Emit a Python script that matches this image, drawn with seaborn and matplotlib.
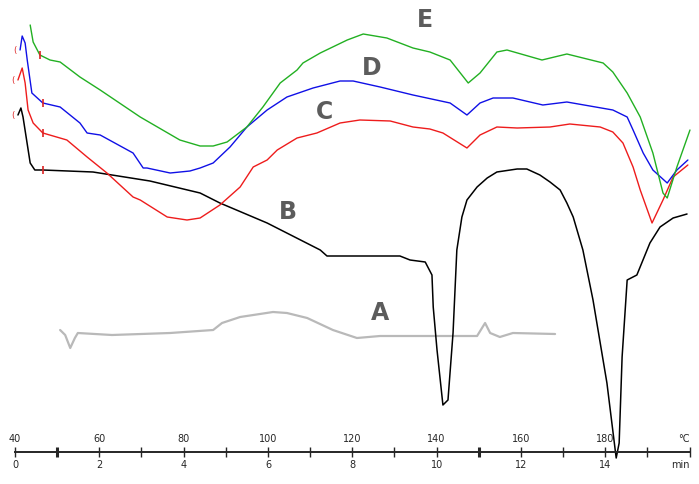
import matplotlib
matplotlib.use('Agg')
import matplotlib.pyplot as plt
import pandas as pd
import seaborn as sns

# --- data: temperature (°C) vs heat flow (arb. units) ---
temp_a = [50.7, 51.9, 53.1, 54.2, 54.9, 63.0, 76.8, 87.0, 89.1, 93.4, 101.2, 104.5,
          109.3, 115.4, 121.1, 126.6, 149.6, 151.5, 152.7, 155.0, 158.1, 168.1]
hf_a = [12.2, 11.7, 10.4, 11.4, 11.9, 11.7, 11.9, 12.2, 12.9, 13.5, 14.0, 13.9,
        13.4, 12.2, 11.4, 11.6, 11.6, 12.9, 11.9, 11.5, 11.9, 11.8]

temp_b = [40.7, 41.4, 41.9, 43.6, 44.7, 46.6, 58.5, 72.0, 83.9, 88.6, 99.8, 112.4,
          114.0, 119.5, 131.3, 133.7, 137.3, 138.9, 139.2, 140.1, 141.5, 142.7, 143.9,
          144.8, 146.0, 147.2, 149.6, 152.0, 154.3, 159.1, 161.4, 164.5, 166.9, 169.3,
          170.9, 172.4, 174.7, 177.1, 180.4, 182.6, 183.3, 184.0, 185.2, 187.5, 190.6,
          193.0, 196.1, 199.4]
hf_b = [33.7, 34.4, 33.5, 28.9, 28.2, 28.2, 28.0, 27.1, 25.9, 24.9, 22.9, 20.2,
        19.6, 19.6, 19.6, 19.2, 19.0, 17.7, 14.5, 10.2, 4.7, 5.2, 11.9,
        20.2, 23.5, 25.2, 26.5, 27.4, 28.0, 28.3, 28.3, 27.7, 27.0, 26.2,
        24.9, 23.5, 20.2, 15.2, 6.9, -0.6, 0.9, 9.5, 17.2, 17.7, 20.9,
        22.5, 23.4, 23.8]

temp_c = [40.7, 41.7, 42.4, 43.1, 44.3, 46.6, 52.3, 57.1, 61.8, 68.0, 69.7, 76.1,
          80.8, 83.9, 88.6, 93.4, 96.5, 99.8, 102.2, 106.9, 111.6, 117.1, 121.8,
          129.0, 134.4, 138.4, 141.5, 147.2, 150.3, 154.3, 159.1, 166.9, 171.6,
          178.8, 181.8, 184.2, 186.6, 188.3, 191.1, 193.7, 196.1, 199.6]
hf_c = [37.2, 38.4, 36.9, 34.2, 32.9, 31.9, 31.2, 29.5, 27.9, 25.5, 25.2, 23.5,
        23.2, 23.4, 24.7, 26.5, 28.5, 29.2, 30.2, 31.4, 31.9, 32.9, 33.2,
        33.1, 32.5, 32.3, 31.9, 30.4, 31.7, 32.5, 32.4, 32.5, 32.8,
        32.5, 32.0, 30.9, 28.5, 26.2, 22.9, 25.2, 27.5, 28.7]

temp_d = [41.2, 41.7, 42.4, 42.9, 44.0, 46.6, 50.7, 55.4, 57.1, 60.2, 68.0, 70.4,
          71.3, 76.8, 81.5, 83.9, 87.0, 91.0, 95.0, 99.8, 104.5, 110.7, 117.1,
          120.2, 126.6, 134.4, 143.2, 147.2, 150.3, 153.4, 158.1, 165.2, 170.9,
          181.8, 185.2, 186.6, 189.0, 191.3, 194.7, 197.0, 199.6]
hf_d = [40.2, 41.6, 40.9, 39.2, 35.9, 34.9, 34.5, 32.9, 31.9, 31.7, 29.9, 28.4,
        28.4, 27.9, 28.1, 28.4, 28.9, 30.5, 32.5, 34.2, 35.5, 36.4, 37.1,
        37.1, 36.5, 35.7, 34.9, 33.7, 34.9, 35.4, 35.4, 34.7, 35.0,
        34.2, 33.5, 32.2, 29.9, 28.2, 26.9, 28.2, 29.2]

temp_e = [43.6, 44.3, 45.9, 48.3, 50.7, 55.4, 60.2, 69.7, 79.1, 83.9, 87.0, 90.3,
          95.0, 98.8, 102.9, 106.9, 108.3, 112.4, 118.8, 122.6, 128.2, 134.4, 138.4,
          143.2, 147.5, 150.3, 154.3, 156.7, 165.0, 170.9, 179.5, 181.8, 185.2,
          188.3, 191.3, 193.7, 194.7, 197.0, 200.1]
hf_e = [42.7, 41.0, 39.7, 39.2, 39.0, 37.5, 36.2, 33.5, 31.2, 30.6, 30.6, 31.0,
        32.5, 34.5, 36.9, 38.2, 38.9, 39.9, 41.2, 41.8, 41.4, 40.4, 40.0,
        39.2, 36.9, 37.9, 40.0, 40.2, 39.2, 39.8, 38.9, 38.0, 35.9,
        33.5, 29.9, 25.9, 25.4, 28.5, 32.2]

curve_labels = ['A', 'B', 'C', 'D', 'E']
label_temp = [126.6, 104.8, 113.5, 124.7, 137.3]
label_hf = [13.9, 24.0, 34.0, 38.4, 43.2]

temp_ticks = [40, 60, 80, 100, 120, 140, 160, 180, 200]
temp_ticklabels = ['40', '60', '80', '100', '120', '140', '160', '180', '°C']
min_ticks = [0, 2, 4, 6, 8, 10, 12, 14, 16]
min_ticklabels = ['0', '2', '4', '6', '8', '10', '12', '14', 'min']

sns.set_style('white')
plt.rcParams['font.family'] = ['DejaVu Sans']

fig = plt.figure(figsize=(6.99, 4.84), dpi=100)
ax = fig.add_axes([0, 0, 1, 1])

curves = [
    (temp_a, hf_a, '#b9b9b9', 1.6, None, False),
    (temp_b, hf_b, 'black', 1.1, 5, True),
    (temp_c, hf_c, '#ee1c1c', 1.0, 5, True),
    (temp_d, hf_d, '#1010e6', 1.0, 5, True),
    (temp_e, hf_e, '#22b022', 1.0, 2, False),
]
for temp, hf, color, lw, mark, bracket in curves:
    df = pd.DataFrame({'temp': temp, 'hf': hf})
    sns.lineplot(data=df, x='temp', y='hf', sort=False, estimator=None,
                 color=color, lw=lw, ax=ax)
    if mark is not None:
        # small red start markers left by the instrument software
        ax.plot(temp[mark], hf[mark], marker='|', ms=6, mew=1.2, color='#dd2222')
    if bracket:
        ax.annotate('(', (temp[0], hf[0]), xytext=(-4, 0), textcoords='offset points',
                    ha='center', va='center', fontsize=6, color='#dd2222')

for lab, t, h in zip(curve_labels, label_temp, label_hf):
    ax.text(t, h, lab, ha='center', va='center', fontsize=17,
            fontweight='bold', color='#5c5c5c')

ax.set_xlim(36.44, 202.24)
ax.set_ylim(-3.2, 45.2)
ax.set_xlabel('')
ax.set_ylabel('')
ax.set_yticks([])

for side in ['left', 'right', 'bottom']:
    ax.spines[side].set_visible(False)
ax.spines['top'].set_position(('data', 0))
ax.spines['top'].set_bounds(40, 200)
ax.spines['top'].set_linewidth(1.4)
ax.xaxis.tick_top()
ax.set_xticks(temp_ticks, temp_ticklabels)
ax.set_xticks(range(50, 200, 20), minor=True)
ax.tick_params(axis='x', which='both', direction='inout', length=7, width=1.0,
               labelsize=7, pad=2, top=True, bottom=False)
minor = ax.xaxis.get_minor_ticks()
for i in (0, 5):
    minor[i].tick2line.set_markeredgewidth(2.2)
ax.xaxis.get_major_ticks()[-1].label2.set_horizontalalignment('right')

sec = ax.secondary_xaxis(32 / 484, functions=(lambda T: (T - 40) / 10,
                                               lambda m: m * 10 + 40))
sec.set_xticks(min_ticks, min_ticklabels)
sec.tick_params(length=0, labelsize=7, pad=6)
for side in sec.spines:
    sec.spines[side].set_visible(False)
sec.xaxis.get_major_ticks()[-1].label1.set_horizontalalignment('right')

fig.savefig('out.png', dpi=100)
